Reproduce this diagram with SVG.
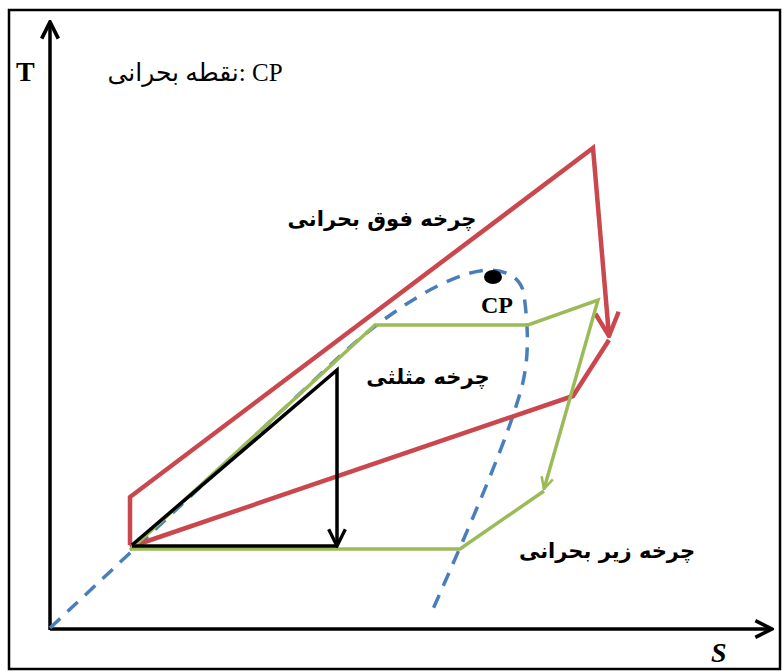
<svg xmlns="http://www.w3.org/2000/svg" width="782" height="671" viewBox="0 0 782 671">
<style>
.frame{fill:#fff;stroke:#000;stroke-width:2.5}
.axis{fill:none;stroke:#000;stroke-width:3.5}
.red{fill:none;stroke:#c9474d;stroke-width:4.5;stroke-linejoin:miter}
.green{fill:none;stroke:#9bbb59;stroke-width:3.5}
.black{fill:none;stroke:#000;stroke-width:3.5}
.blue{fill:none;stroke:#4a7ebb;stroke-width:3.5;stroke-dasharray:14 10}
.lbl{font-family:"Liberation Serif",serif;font-weight:bold;fill:#000}
.fa{font-family:"DejaVu Sans",sans-serif;font-weight:bold;fill:#000}
</style>
<defs>
<marker id="ahAxis" viewBox="0 0 12 12" refX="11" refY="6" markerWidth="20" markerHeight="20" markerUnits="userSpaceOnUse" orient="auto"><path d="M1,1 L11,6 L1,11" fill="none" stroke="#000" stroke-width="2.2"/></marker>
<marker id="ahRed" viewBox="0 0 12 12" refX="11" refY="6" markerWidth="28" markerHeight="28" markerUnits="userSpaceOnUse" orient="auto"><path d="M1,1 L11,6 L1,11" fill="none" stroke="#c9474d" stroke-width="1.9"/></marker>
<marker id="ahBlack" viewBox="0 0 12 12" refX="11" refY="6" markerWidth="20" markerHeight="20" markerUnits="userSpaceOnUse" orient="auto"><path d="M1,1 L11,6 L1,11" fill="none" stroke="#000" stroke-width="2"/></marker>
<marker id="ahGreen" viewBox="0 0 12 12" refX="11" refY="6" markerWidth="14" markerHeight="14" markerUnits="userSpaceOnUse" orient="auto"><path d="M1,1 L11,6 L1,11" fill="none" stroke="#9bbb59" stroke-width="2.2"/></marker>
</defs>
<rect class="frame" x="9" y="10" width="771" height="659"/>
<g id="axes">
<line class="axis" x1="50" y1="630" x2="50" y2="22" marker-end="url(#ahAxis)"/>
<line class="axis" x1="50" y1="629" x2="772" y2="629" marker-end="url(#ahAxis)"/>
<text class="lbl" x="16" y="81" font-size="28">T</text>
<text class="lbl" x="711" y="662" font-size="28" font-style="italic">S</text>
</g>
<g id="legend">
<text x="195" y="81" font-size="25" text-anchor="middle" direction="rtl" font-family="Liberation Serif,DejaVu Sans,serif">CP :نقطه بحرانی</text>
</g>
<g id="connectors">
<path id="saturation-dome" class="blue" d="M50,628 L340,356 C390,310 450,272 488,270 C510,270 522,280 524,295 C530,340 528,370 518,400 C500,460 450,570 430,616"/>
<path id="supercritical-cycle" class="red" d="M130,545 L130,497 L593,148 L609,336" marker-end="url(#ahRed)"/>
<path id="supercritical-return" class="red" d="M609,340 L573,396 L130,547"/>
<path id="subcritical-cycle" class="green" d="M130,550 L375,325 L528,325 L598,300 L544,489" marker-end="url(#ahGreen)"/>
<path id="subcritical-return" class="green" d="M544,491 L460,549 L130,549"/>
<path id="triangular-cycle" class="black" d="M132,545 L337,370 L337,546" marker-end="url(#ahBlack)"/>
<line class="black" x1="132" y1="546" x2="337" y2="546"/>
</g>
<g id="cp">
<ellipse cx="493" cy="277" rx="9" ry="7" fill="#000"/>
<text class="lbl" x="497" y="313" font-size="24" text-anchor="middle">CP</text>
</g>
<g id="label-supercritical">
<text class="fa" x="382" y="226" font-size="21" text-anchor="middle" direction="rtl">چرخه فوق بحرانی</text>
</g>
<g id="label-triangular">
<text class="fa" x="428" y="384" font-size="21" text-anchor="middle" direction="rtl">چرخه مثلثی</text>
</g>
<g id="label-subcritical">
<text class="fa" x="607" y="558" font-size="21" text-anchor="middle" direction="rtl">چرخه زیر بحرانی</text>
</g>
</svg>
